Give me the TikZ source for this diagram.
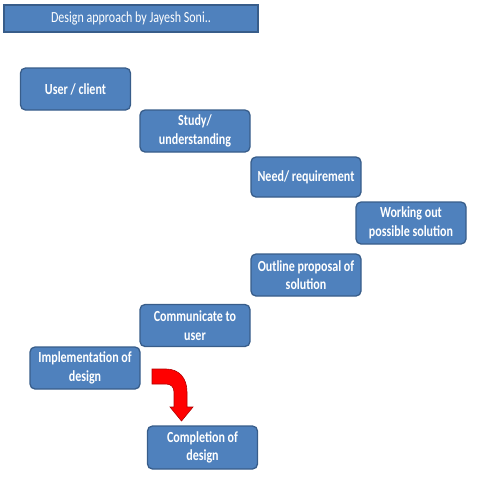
\documentclass[tikz,border=0pt]{standalone}
\usepackage{fontspec}
\setmainfont{Carlito}
\newfontfamily\tallfont[FakeStretch=0.78]{Carlito}
\usetikzlibrary{arrows.meta}

\definecolor{boxfill}{HTML}{4F81BD}
\definecolor{boxline}{HTML}{385D8A}
\definecolor{bendred}{HTML}{FF0000}
\definecolor{bendline}{HTML}{B00000}

\begin{document}
\begin{tikzpicture}[
    x=1pt, y=-1pt,
    stepbox/.style={rectangle, rounded corners=5pt, draw=boxline, line width=1.3pt,
        fill=boxfill, text=white, align=center, inner sep=0pt,
        minimum width=110pt, minimum height=42pt,
        font=\tallfont\bfseries\fontsize{15.4}{18.5}\selectfont},
    titlebar/.style={rectangle, draw=boxline, line width=1.3pt, fill=boxfill,
        text=white, inner sep=0pt, minimum width=254pt, minimum height=27pt,
        font=\tallfont\fontsize{15.4}{18}\selectfont}
]
    \useasboundingbox (0,0) rectangle (480,480);

    % Title
    \node[titlebar] (title) at (131,18.5) {Design approach by Jayesh Soni..};

    % Steps
    \node[stepbox] (1) at (75.5,89) {User / client};
    \node[stepbox] (2) at (195,131) {Study/\\understanding};
    \node[stepbox, minimum height=40pt] (3) at (306,177) {Need/ requirement};
    \node[stepbox] (4) at (411,223) {Working out\\possible solution};
    \node[stepbox] (5) at (306,275) {Outline proposal of\\solution};
    \node[stepbox] (6) at (195,325.5) {Communicate to\\user};
    \node[stepbox] (7) at (85,368) {Implementation of\\design};
    \node[stepbox, minimum height=43pt] (8) at (202.5,447.5) {Completion of\\design};

    % Bent arrow
    \draw[bendline, line width=0.6pt, fill=bendred]
        (152,369) -- (166,369)
        .. controls (179,369) and (187,378) .. (187,392)
        -- (187,407) -- (193,407) -- (181.5,421) -- (170,407) -- (174,407)
        -- (174,392) .. controls (174,387) and (171,384) .. (166,384)
        -- (152,384) -- cycle;
\end{tikzpicture}
\end{document}
